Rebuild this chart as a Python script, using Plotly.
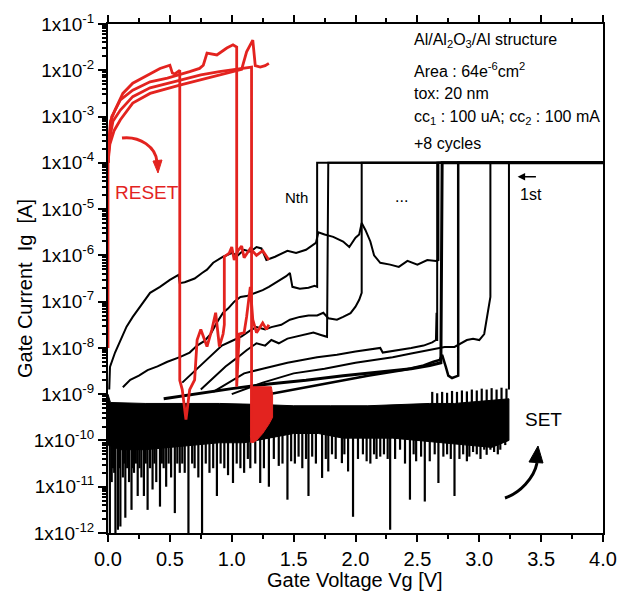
import plotly.graph_objects as go

# ---- SET sweeps (black): (gate voltage [V], log10 gate current [A]) ----
set_a = [(0.01, -8.9), (0.016, -8.41), (0.057, -8.1), (0.10, -7.83), (0.15, -7.54), (0.20, -7.33),
         (0.28, -7.03), (0.34, -6.81), (0.42, -6.68), (0.50, -6.53), (0.57, -6.42), (0.58, -6.6),
         (0.62, -6.58), (0.70, -6.5), (0.76, -6.38), (0.80, -6.31), (0.85, -6.16), (0.93, -6.03),
         (1.00, -5.95), (1.05, -6.0), (1.10, -5.88), (1.15, -5.92), (1.20, -5.82), (1.24, -5.85),
         (1.28, -6.1), (1.35, -6.03), (1.45, -5.9), (1.52, -5.95), (1.60, -5.88), (1.68, -5.73),
         (1.70, -5.5), (1.75, -5.55), (1.82, -5.6), (1.90, -5.7), (1.95, -5.82), (2.00, -5.62),
         (2.03, -5.55), (2.05, -5.3), (2.08, -5.45), (2.12, -5.7), (2.15, -6.0), (2.20, -6.16),
         (2.28, -6.2), (2.35, -6.25), (2.42, -6.12), (2.50, -6.2), (2.58, -6.1), (2.65, -6.12),
         (2.67, -6.1), (2.67, -4.0), (4.0, -4.0)]
set_nth = [(0.12, -8.85), (0.18, -8.69), (0.25, -8.6), (0.32, -8.48), (0.40, -8.4), (0.48, -8.3),
           (0.58, -8.2), (0.62, -8.15), (0.66, -8.1), (0.72, -7.95), (0.78, -7.85), (0.83, -7.7),
           (0.88, -7.45), (0.93, -7.24), (0.97, -7.15), (1.02, -7.0), (1.07, -6.9), (1.12, -6.88),
           (1.20, -6.81), (1.25, -6.75), (1.30, -6.68), (1.35, -6.6), (1.39, -6.53), (1.44, -6.45),
           (1.47, -6.38), (1.49, -6.68), (1.55, -6.72), (1.62, -6.7), (1.67, -6.66), (1.69, -6.68),
           (1.69, -4.0), (4.0, -4.0)]
set_c = [(0.60, -8.75), (0.68, -8.55), (0.76, -8.35), (0.84, -8.15), (0.92, -7.95), (1.00, -7.85),
         (1.08, -7.75), (1.15, -7.62), (1.20, -7.55), (1.27, -7.6), (1.32, -7.55), (1.40, -7.5),
         (1.47, -7.39), (1.55, -7.33), (1.62, -7.3), (1.69, -7.3), (1.74, -7.24), (1.78, -7.36),
         (1.85, -7.39), (1.90, -7.33), (1.96, -7.25), (2.00, -7.11), (2.03, -6.96), (2.05, -6.81),
         (2.05, -4.0), (4.0, -4.0)]
set_d = [(0.75, -8.9), (0.85, -8.65), (0.95, -8.4), (1.05, -8.2), (1.12, -8.05), (1.20, -7.9),
         (1.27, -7.95), (1.32, -7.83), (1.38, -7.9), (1.45, -7.8), (1.52, -7.76), (1.60, -7.7),
         (1.66, -7.67), (1.72, -7.72), (1.77, -7.76), (1.78, -4.0), (4.0, -4.0)]
set_e = [(0.85, -8.95), (1.00, -8.7), (1.10, -8.55), (1.25, -8.45), (1.45, -8.32), (1.69, -8.2),
         (1.85, -8.15), (2.00, -8.08), (2.20, -8.0), (2.22, -8.1), (2.35, -8.05), (2.45, -8.0),
         (2.55, -7.95), (2.62, -7.88), (2.65, -7.83), (2.655, -7.24), (2.66, -7.85), (2.66, -4.0),
         (4.0, -4.0)]
set_f = [(1.00, -9.0), (1.25, -8.75), (1.50, -8.55), (1.75, -8.45), (2.00, -8.32), (2.18, -8.25),
         (2.30, -8.2), (2.45, -8.12), (2.60, -8.05), (2.68, -8.0), (2.72, -7.98), (2.80, -7.98),
         (2.86, -7.9), (2.90, -7.83), (2.95, -7.8), (3.00, -7.83), (3.04, -7.7), (3.06, -7.39),
         (3.08, -7.1), (3.09, -6.9), (3.09, -4.0), (4.0, -4.0)]
set_g = [(1.20, -9.05), (1.50, -8.9), (1.80, -8.75), (2.10, -8.6), (2.40, -8.47), (2.55, -8.38),
         (2.63, -8.3), (2.68, -8.26), (2.70, -8.15), (2.72, -8.3), (2.73, -8.41), (2.75, -8.6),
         (2.78, -8.65), (2.81, -8.62), (2.83, -8.6), (2.83, -4.0), (4.0, -4.0)]
set_h = [(0.45, -9.1), (0.70, -9.0), (1.00, -8.88), (1.30, -8.78), (1.60, -8.7), (1.90, -8.6),
         (2.20, -8.52), (2.45, -8.45), (2.60, -8.38), (2.69, -8.32), (2.70, -4.0), (4.0, -4.0)]
set_first = [(3.24, -8.9), (3.24, -4.0), (4.0, -4.0)]

# low-current noise floor of the SET sweeps: upper and lower envelope
floor_top = [(0.0, -9.0), (0.02, -9.18), (0.30, -9.2), (0.60, -9.2), (0.90, -9.2), (1.20, -9.22),
             (1.50, -9.25), (1.80, -9.25), (2.10, -9.25), (2.40, -9.22), (2.60, -9.2), (2.80, -9.2),
             (3.00, -9.15), (3.24, -9.1)]
floor_bottom = [(3.24, -10.0), (3.10, -10.15), (2.90, -10.1), (2.70, -10.05), (2.50, -10.0),
                (2.30, -9.95), (2.10, -9.95), (1.90, -9.95), (1.70, -9.85), (1.50, -9.85),
                (1.30, -9.95), (1.10, -10.05), (0.90, -10.05), (0.70, -10.1), (0.50, -10.15),
                (0.30, -10.2), (0.10, -10.2), (0.0, -10.1)]
# upward comb teeth of the first sweep above the floor: (voltage, log10 peak current)
floor_teeth = [(2.62, -8.95), (2.66, -8.98), (2.70, -8.95), (2.74, -8.97), (2.78, -8.93),
               (2.82, -8.95), (2.86, -8.92), (2.90, -8.94), (2.94, -8.9), (2.98, -8.92),
               (3.02, -8.88), (3.06, -8.9), (3.10, -8.87), (3.14, -8.9), (3.18, -8.86),
               (3.22, -8.88)]
# downward noise spikes: (voltage, log10 of the lowest current reached)
floor_spikes = [(0.015, -12), (0.03, -10.9), (0.04, -10.6), (0.05, -10.7), (0.06, -12),
                (0.08, -11.93), (0.09, -10.6), (0.10, -11.86), (0.12, -10.8), (0.13, -10.5),
                (0.14, -11.67), (0.155, -10.6), (0.17, -10.9), (0.19, -11.5), (0.20, -10.6),
                (0.21, -10.7), (0.225, -10.5), (0.24, -11.2), (0.255, -10.6), (0.27, -10.8),
                (0.29, -11.2), (0.305, -10.5), (0.32, -11.5), (0.34, -10.6), (0.36, -11.06),
                (0.375, -10.5), (0.39, -10.9), (0.42, -11.43), (0.435, -10.5), (0.45, -10.6),
                (0.47, -11.0), (0.49, -10.5), (0.51, -10.8), (0.54, -11.57), (0.56, -10.5),
                (0.58, -10.7), (0.60, -10.5), (0.62, -10.7), (0.65, -12), (0.68, -10.5),
                (0.70, -10.6), (0.73, -10.8), (0.76, -12), (0.79, -10.5), (0.82, -10.7),
                (0.85, -10.6), (0.88, -11.2), (0.91, -10.5), (0.94, -10.6), (0.97, -10.75),
                (1.01, -10.92), (1.04, -10.5), (1.07, -10.6), (1.10, -10.7), (1.13, -10.4),
                (1.15, -10.6), (1.19, -10.5), (1.23, -10.92), (1.26, -10.6), (1.30, -11.0),
                (1.34, -10.4), (1.38, -10.55), (1.41, -10.5), (1.45, -11.28), (1.48, -10.45),
                (1.51, -10.5), (1.54, -10.35), (1.57, -10.6), (1.60, -10.4), (1.62, -11.2),
                (1.65, -10.35), (1.68, -10.5), (1.73, -10.81), (1.76, -10.4), (1.78, -10.67),
                (1.81, -10.3), (1.84, -10.4), (1.89, -10.49), (1.91, -10.3), (1.94, -10.67),
                (1.98, -11.65), (2.02, -10.4), (2.06, -10.3), (2.09, -10.45), (2.12, -10.5),
                (2.15, -10.3), (2.17, -10.4), (2.20, -10.35), (2.23, -10.3), (2.26, -10.4),
                (2.28, -11.93), (2.32, -10.4), (2.36, -10.2), (2.40, -10.5), (2.44, -11.28),
                (2.47, -10.3), (2.49, -10.45), (2.53, -10.35), (2.56, -11.32), (2.60, -10.45),
                (2.64, -10.3), (2.67, -10.92), (2.71, -10.35), (2.74, -10.3), (2.77, -10.4),
                (2.80, -11.2), (2.84, -10.4), (2.87, -10.3), (2.90, -10.45), (2.92, -10.35),
                (2.95, -10.25), (2.98, -10.3), (3.01, -10.4), (3.04, -10.2), (3.06, -10.31),
                (3.09, -10.2), (3.12, -10.25), (3.15, -10.3), (3.17, -10.2), (3.21, -10.1)]
spike_start = -9.6

# ---- RESET sweeps (red) ----
reset_1 = [(0.0, -8.0), (0.0, -4.0), (0.008, -3.5), (0.02, -3.1), (0.057, -2.86), (0.12, -2.5),
           (0.20, -2.28), (0.32, -2.1), (0.42, -1.96), (0.50, -1.89), (0.52, -2.06),
           (0.54, -2.08), (0.56, -2.03), (0.58, -2.0), (0.58, -8.7), (0.60, -8.9), (0.63, -9.55),
           (0.64, -9.3), (0.66, -8.9), (0.70, -8.69), (0.72, -7.83), (0.75, -7.6), (0.80, -7.97),
           (0.84, -7.6), (0.87, -7.24), (0.90, -7.97), (0.93, -7.7), (0.94, -7.5), (0.94, -6.03),
           (0.98, -5.95), (1.00, -5.82), (1.02, -6.1), (1.05, -5.9), (1.08, -5.8), (1.10, -6.05),
           (1.15, -5.85), (1.20, -6.0), (1.25, -5.9), (1.30, -6.1)]
reset_2 = [(0.0, -4.0), (0.01, -3.5), (0.03, -3.0), (0.10, -2.64), (0.20, -2.43), (0.34, -2.25),
           (0.48, -2.17), (0.58, -2.1), (0.66, -2.03), (0.74, -1.96), (0.77, -1.89), (0.80, -1.63),
           (0.88, -1.67), (0.96, -1.52), (1.01, -1.45), (1.04, -1.5), (1.04, -8.84), (1.06, -7.7),
           (1.10, -7.67), (1.12, -7.33), (1.15, -6.68), (1.17, -7.39), (1.20, -7.67),
           (1.25, -7.46), (1.28, -7.6), (1.30, -7.5)]
reset_3 = [(0.0, -4.0), (0.012, -3.5), (0.04, -3.1), (0.10, -2.86), (0.20, -2.57), (0.34, -2.38),
           (0.53, -2.25), (0.75, -2.1), (0.90, -2.03), (1.01, -1.99), (1.08, -1.96),
           (1.16, -1.93), (1.16, -10.05)]
reset_4 = [(0.0, -4.0), (0.015, -3.6), (0.05, -3.3), (0.10, -3.07), (0.20, -2.71), (0.34, -2.5),
           (0.58, -2.32), (0.74, -2.21), (0.90, -2.1), (1.01, -2.04), (1.08, -1.98),
           (1.12, -1.6), (1.17, -1.35), (1.19, -1.9), (1.23, -1.93), (1.27, -1.9), (1.30, -1.85)]
# noisy high-resistance tail of the third RESET sweep (outline)
reset_3_tail = [(1.15, -8.84), (1.32, -8.84), (1.33, -9.0), (1.33, -9.5), (1.30, -9.65),
                (1.25, -9.85), (1.20, -10.0), (1.17, -10.05), (1.15, -9.9)]

# ---- axis ticks ----
x_ticks = [0.0, 0.5, 1.0, 1.5, 2.0, 2.5, 3.0, 3.5, 4.0]
x_minor = [0.25, 0.75, 1.25, 1.75, 2.25, 2.75, 3.25, 3.75]
y_exponents = [-12, -11, -10, -9, -8, -7, -6, -5, -4, -3, -2, -1]

BLACK = "#000000"
RED = "#e3231f"
FONT = "Liberation Sans, Arial, sans-serif"


def xy(points):
    v = [p[0] for p in points]
    i = [10 ** p[1] for p in points]
    return v, i


def segments(points, start):
    sx, sy = [], []
    for v, end in points:
        sx += [v, v, None]
        sy += [10 ** start, 10 ** end, None]
    return sx, sy


fig = go.Figure()

# noise floor band
bx, by = xy(floor_top + floor_bottom)
fig.add_trace(go.Scatter(x=bx, y=by, mode="lines", fill="toself", fillcolor=BLACK,
                         line=dict(color=BLACK, width=1), hoverinfo="skip"))

# noise spikes and comb teeth
sx, sy = segments(floor_spikes, spike_start)
fig.add_trace(go.Scatter(x=sx, y=sy, mode="lines", line=dict(color=BLACK, width=2.2),
                         hoverinfo="skip"))
tx, ty = segments(floor_teeth, -9.3)
fig.add_trace(go.Scatter(x=tx, y=ty, mode="lines", line=dict(color=BLACK, width=2.2),
                         hoverinfo="skip"))

for curve, w in [(set_h, 3), (set_g, 2.5), (set_f, 2), (set_e, 2), (set_d, 2), (set_c, 2),
                 (set_nth, 2), (set_a, 2), (set_first, 2)]:
    cx, cy = xy(curve)
    fig.add_trace(go.Scatter(x=cx, y=cy, mode="lines", line=dict(color=BLACK, width=w)))

# RESET sweeps
rx, ry = xy(reset_3_tail)
fig.add_trace(go.Scatter(x=rx, y=ry, mode="lines", fill="toself", fillcolor=RED,
                         line=dict(color=RED, width=1), hoverinfo="skip"))
for curve in [reset_1, reset_2, reset_3, reset_4]:
    cx, cy = xy(curve)
    fig.add_trace(go.Scatter(x=cx, y=cy, mode="lines", line=dict(color=RED, width=2.8)))

# text labels (y in log10 units on the log axis)
labels = [
    dict(x=0.04, y=-4.65, text="RESET", color=RED, size=19),
    dict(x=1.414, y=-4.76, text="Nth", color=BLACK, size=15),
    dict(x=2.30, y=-4.72, text="...", color=BLACK, size=16),
    dict(x=3.31, y=-4.69, text="1st", color=BLACK, size=16),
    dict(x=3.35, y=-9.55, text="SET", color=BLACK, size=19),
    dict(x=2.46, y=-1.35, text="Al/Al<sub>2</sub>O<sub>3</sub>/Al structure", color=BLACK, size=16),
    dict(x=2.46, y=-1.99, text="Area : 64e<sup>-6</sup>cm<sup>2</sup>", color=BLACK, size=16),
    dict(x=2.46, y=-2.51, text="tox: 20 nm", color=BLACK, size=16),
    dict(x=2.46, y=-3.03, text="cc<sub>1</sub> : 100 uA; cc<sub>2</sub> : 100 mA", color=BLACK, size=16),
    dict(x=2.46, y=-3.59, text="+8 cycles", color=BLACK, size=16),
]
for lab in labels:
    fig.add_annotation(x=lab["x"], y=lab["y"], xref="x", yref="y", text=lab["text"],
                       showarrow=False, xanchor="left", yanchor="middle",
                       font=dict(family=FONT, size=lab["size"], color=lab["color"]))

# arrow pointing at the first cycle
fig.add_annotation(x=3.31, y=-4.30, ax=3.47, ay=-4.30, xref="x", yref="y", axref="x", ayref="y",
                   text="", showarrow=True, arrowhead=2, arrowsize=1, arrowwidth=1.5,
                   arrowcolor=BLACK)

# axis titles
fig.add_annotation(x=0.499, y=-0.092, xref="paper", yref="paper", text="Gate Voltage Vg [V]",
                   showarrow=False, xanchor="center", yanchor="middle",
                   font=dict(family=FONT, size=20, color=BLACK))
fig.add_annotation(x=-0.168, y=0.481, xref="paper", yref="paper", text="Gate Current  Ig  [A]",
                   showarrow=False, xanchor="center", yanchor="middle", textangle=-90,
                   font=dict(family=FONT, size=20, color=BLACK))

# curved sweep-direction arrows
fig.add_shape(type="path", xref="paper", yref="paper",
              path="M 0.0283,0.7760 C 0.0646,0.7800 0.0970,0.7583 0.0990,0.7289",
              line=dict(color=RED, width=3))
fig.add_shape(type="path", xref="paper", yref="paper",
              path="M 0.1010,0.7073 L 0.0909,0.7308 L 0.1091,0.7328 Z",
              line=dict(color=RED, width=1), fillcolor=RED)
fig.add_shape(type="path", xref="paper", yref="paper",
              path="M 0.8020,0.0688 C 0.8323,0.0786 0.8606,0.1081 0.8667,0.1375",
              line=dict(color=BLACK, width=3))
fig.add_shape(type="path", xref="paper", yref="paper",
              path="M 0.8687,0.1709 L 0.8505,0.1395 L 0.8788,0.1375 Z",
              line=dict(color=BLACK, width=1), fillcolor=BLACK)

y_minor = [m * 10.0 ** e for e in y_exponents[:-1] for m in range(2, 10)]

fig.update_layout(
    width=618, height=606,
    margin=dict(l=108, r=15, t=24, b=73, autoexpand=False),
    paper_bgcolor="white", plot_bgcolor="white",
    showlegend=False,
    xaxis=dict(range=[0, 4], tickmode="array", tickvals=x_ticks,
               ticktext=[f"{t:.1f}" for t in x_ticks], ticklabeloverflow="allow",
               automargin=False,
               ticks="outside", ticklen=7, tickwidth=2, tickcolor=BLACK,
               showline=True, linewidth=2, linecolor=BLACK, mirror="ticks",
               showgrid=False, zeroline=False,
               tickfont=dict(family=FONT, size=20, color=BLACK),
               minor=dict(tickmode="array", tickvals=x_minor, ticks="outside",
                          ticklen=4, tickwidth=2, tickcolor=BLACK)),
    yaxis=dict(type="log", range=[-12, -1], tickmode="array",
               tickvals=[10.0 ** e for e in y_exponents],
               ticktext=[f"1x10<sup>{e}</sup>" for e in y_exponents],
               automargin=False,
               ticks="outside", ticklen=8, tickwidth=2, tickcolor=BLACK,
               showline=True, linewidth=2, linecolor=BLACK, mirror=True,
               showgrid=False, zeroline=False,
               tickfont=dict(family=FONT, size=19, color=BLACK),
               minor=dict(tickmode="array", tickvals=y_minor, ticks="outside",
                          ticklen=4, tickwidth=1.5, tickcolor=BLACK)),
)

fig.write_html("out.html")
